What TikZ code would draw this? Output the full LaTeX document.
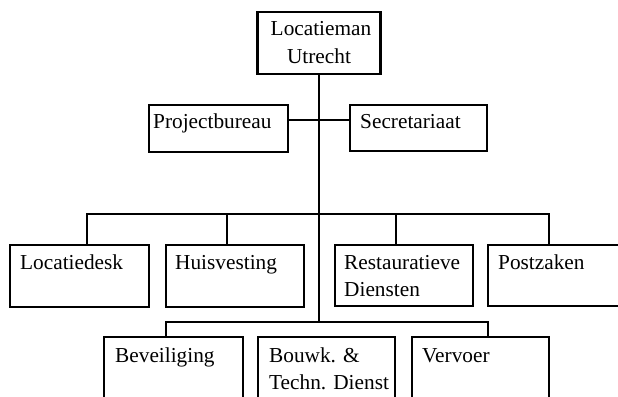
\documentclass[tikz,border=0pt]{standalone}
\usepackage{fontspec}
\setmainfont{Liberation Serif}
\begin{document}
\begin{tikzpicture}[x=1pt,y=-1pt,
  orgbox/.style={draw, line width=2.2pt, rectangle, inner sep=0pt},
  lbl/.style={anchor=base west, inner sep=0pt, font=\fontsize{21.3}{28}\selectfont},
  link/.style={line width=2.2pt, line join=miter}]
\useasboundingbox (0,0) rectangle (618,396);
\clip (0,0) rectangle (618,396);
\fill[white] (0,0) rectangle (618,396);

% head of the organisation
\node[orgbox, minimum width=123pt, minimum height=62pt, align=center,
      font=\fontsize{21.3}{28}\selectfont] (top) at (319,43) {\hspace*{4pt}Locatieman\\Utrecht};

% staff units
\node[orgbox, minimum width=139pt, minimum height=47pt] (pb)  at (218.5,128.5) {};
\node[orgbox, minimum width=137pt, minimum height=46pt] (sec) at (418.5,128) {};
\node[lbl] (pbt)  at (153,128) {Projectbureau};
\node[lbl] (sect) at (360,128) {Secretariaat};

% first row of departments
\node[orgbox, minimum width=139pt, minimum height=62pt] (ld) at (79.5,276) {};
\node[orgbox, minimum width=138pt, minimum height=62pt] (hv) at (235,276) {};
\node[orgbox, minimum width=138pt, minimum height=61pt] (rd) at (404,275.5) {};
\node[orgbox, minimum width=142pt, minimum height=61pt] (pz) at (559,275.5) {};
\node[lbl] (ldt)  at (20,269)  {Locatiedesk};
\node[lbl] (hvt)  at (175,269) {Huisvesting};
\node[lbl] (rdt)  at (344,269) {Restauratieve};
\node[lbl] (rdt2) at (344,296) {Diensten};
\node[lbl] (pzt)  at (498,269) {Postzaken};

% second row of departments
\node[orgbox, minimum width=139pt, minimum height=83pt] (bv) at (173.5,378.5) {};
\node[orgbox, minimum width=137pt, minimum height=83pt] (bt) at (326.5,378.5) {};
\node[orgbox, minimum width=137pt, minimum height=83pt] (vv) at (480.5,378.5) {};
\node[lbl] (bvt)  at (115,362) {Beveiliging};
\node[lbl] (btt)  at (269,362) {Bouwk. \&};
\node[lbl] (btt2) at (269,389) {Techn. Dienst};
\node[lbl] (vvt)  at (422,362) {Vervoer};

% junction points of the lines
\coordinate (tee)  at (319,120);
\coordinate (bus2) at (319,322);
\coordinate (b1l)  at (87,214);
\coordinate (b1m)  at (227,214);
\coordinate (b1n)  at (396,214);
\coordinate (b1r)  at (549,214);
\coordinate (b2l)  at (166,322);
\coordinate (b2r)  at (488,322);

% connectors
\draw[link] (top.south) -- (bus2);
\draw[link] (pb.east |- tee) -- (sec.west |- tee);
\draw[link] (b1l |- ld.north) -- (b1l) -- (b1r) -- (b1r |- pz.north);
\draw[link] (b1m) -- (b1m |- hv.north);
\draw[link] (b1n) -- (b1n |- rd.north);
\draw[link] (b2l |- bv.north) -- (b2l) -- (b2r) -- (b2r |- vv.north);
\end{tikzpicture}
\end{document}
